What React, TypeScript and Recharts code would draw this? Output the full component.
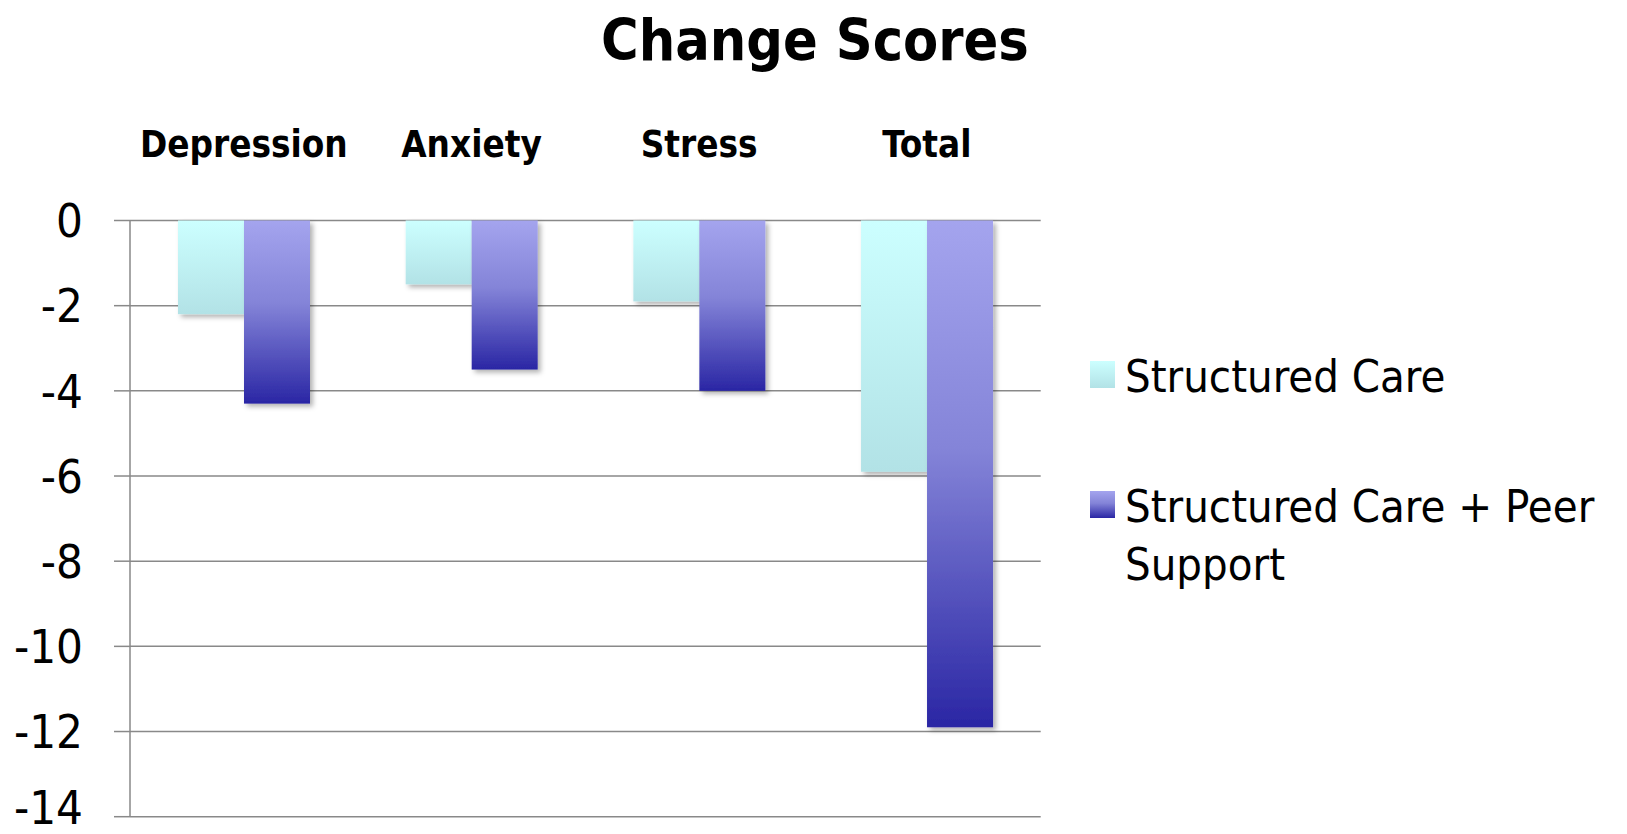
import React from 'react';
import { BarChart, Bar, XAxis, YAxis, CartesianGrid, Legend } from 'recharts';

const categories = ['Depression', 'Anxiety', 'Stress', 'Total'];
const structuredCare = [-2.2, -1.5, -1.9, -5.9];
const peerSupport = [-4.3, -3.5, -4.0, -11.9];
const yTicks = [0, -2, -4, -6, -8, -10, -12, -14];

const seriesNames = ['Structured Care', 'Structured Care + Peer Support'];
const swatches = [
  'linear-gradient(#ccffff, #b2e2e6)',
  'linear-gradient(#a4a4ee, #8484d8 45%, #2a26a4)',
];

const data = categories.map((name, i) => ({
  name,
  sc: structuredCare[i],
  scps: peerSupport[i],
}));

const FONT = "'DejaVu Sans Condensed', 'DejaVu Sans', sans-serif";
const GRID = '#898989';

const BarShape = (p: any) => {
  const y = Math.min(p.y, p.y + p.height);
  const h = Math.abs(p.height);
  return <rect x={p.x} y={y} width={p.width} height={h} fill={p.fill} filter="url(#barShadow)" />;
};

const renderLegend = (props: any) => {
  const items = props.payload || [];
  return (
    <div style={{ fontFamily: FONT, fontSize: 45, lineHeight: '58px', color: '#000' }}>
      {items.map((entry: any, i: number) => (
        <div key={i} style={{ display: 'flex', alignItems: 'flex-start', marginBottom: i === 0 ? 72 : 0 }}>
          <div style={{ width: 25, height: 27, marginTop: 13, marginRight: 10, flexShrink: 0, background: swatches[i] }} />
          <div style={{ width: 495 }}>{entry.value}</div>
        </div>
      ))}
    </div>
  );
};

export default function App() {
  return (
    <div style={{ margin: -8, width: 1627, height: 834, position: 'relative', background: '#fff' }}>
      <div
        style={{
          position: 'absolute',
          left: 315,
          width: 1000,
          top: 12,
          textAlign: 'center',
          fontFamily: FONT,
          fontWeight: 'bold',
          fontSize: 57,
          lineHeight: 1,
          color: '#000',
        }}
      >
        Change Scores
      </div>
      <BarChart
        width={1627}
        height={834}
        data={data}
        margin={{ top: 120.5, right: 586.3, bottom: 17.3, left: 0 }}
        barGap={0}
        barSize={66}
      >
        <defs>
          <linearGradient id="gradSC" x1="0" y1="0" x2="0" y2="1">
            <stop offset="0%" stopColor="#ccffff" />
            <stop offset="100%" stopColor="#b2e2e6" />
          </linearGradient>
          <linearGradient id="gradSCPS" x1="0" y1="0" x2="0" y2="1">
            <stop offset="0%" stopColor="#a4a4ee" />
            <stop offset="45%" stopColor="#8484d8" />
            <stop offset="100%" stopColor="#2a26a4" />
          </linearGradient>
          <filter id="barShadow" x="-20%" y="-10%" width="150%" height="130%">
            <feDropShadow dx="3" dy="3" stdDeviation="2.5" floodColor="#000" floodOpacity="0.3" />
          </filter>
        </defs>
        <CartesianGrid vertical={false} stroke={GRID} strokeWidth={1.5} />
        <XAxis
          dataKey="name"
          orientation="top"
          height={100}
          axisLine={false}
          tickLine={false}
          tickSize={0}
          tickMargin={63.5}
          interval={0}
          tick={{ fontFamily: FONT, fontSize: 36.5, fontWeight: 'bold', fill: '#000' }}
        />
        <YAxis
          type="number"
          domain={[-14, 0]}
          ticks={yTicks}
          width={130}
          tickSize={16}
          tickMargin={31}
          axisLine={{ stroke: GRID, strokeWidth: 1.5 }}
          tickLine={{ stroke: GRID, strokeWidth: 1.5 }}
          tick={{ fontFamily: FONT, fontSize: 47, fill: '#000' }}
        />
        <Legend
          layout="vertical"
          align="center"
          verticalAlign="middle"
          content={renderLegend}
          wrapperStyle={{ left: 1090, top: 348, width: 535 }}
        />
        <Bar dataKey="sc" name={seriesNames[0]} fill="url(#gradSC)" shape={BarShape} isAnimationActive={false} />
        <Bar dataKey="scps" name={seriesNames[1]} fill="url(#gradSCPS)" shape={BarShape} isAnimationActive={false} />
      </BarChart>
    </div>
  );
}
